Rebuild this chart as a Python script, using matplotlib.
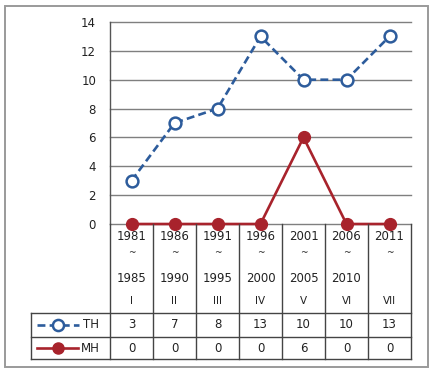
import matplotlib
matplotlib.use("Agg")
import matplotlib.pyplot as plt
from matplotlib.lines import Line2D
from matplotlib.patches import Rectangle

start_years = ["1981", "1986", "1991", "1996", "2001", "2006", "2011"]
end_years = ["1985", "1990", "1995", "2000", "2005", "2010", ""]
roman = ["I", "II", "III", "IV", "V", "VI", "VII"]
th_values = [3, 7, 8, 13, 10, 10, 13]
mh_values = [0, 0, 0, 0, 6, 0, 0]
series_names = ["TH", "MH"]
y_ticks = [0, 2, 4, 6, 8, 10, 12, 14]

W, H = 432, 372
plt.rcParams['font.family'] = ['DejaVu Sans']
fig = plt.figure(figsize=(W / 100, H / 100), dpi=100)

TH_COLOR = "#2d5c9c"
MH_COLOR = "#a8232c"
GRID = "#7f7f7f"
TXT = "#222222"
FS = 8.5

# layout in pixels
px_left, px_right = 110, 411
px_top, px_zero = 22, 224
row_hdr_bot, row_th_bot, row_mh_bot = 313, 337, 359
lab_left = 31

ax = fig.add_axes([px_left / W, 1 - px_zero / H, (px_right - px_left) / W, (px_zero - px_top) / H])
n = len(start_years)
xs = [i + 0.5 for i in range(n)]
ax.set_xlim(0, n)
ax.set_ylim(0, 14)
ax.set_yticks(y_ticks)
ax.set_yticklabels([str(v) for v in y_ticks], fontsize=FS, color=TXT)
ax.tick_params(axis='y', length=0, pad=10)
ax.set_xticks([])
for s in ["top", "right", "bottom"]:
    ax.spines[s].set_visible(False)
ax.spines["left"].set_color("#555555")
ax.spines["left"].set_linewidth(1)
for v in y_ticks:
    ax.axhline(v, color=GRID, lw=1, zorder=1, clip_on=False)

ax.plot(xs, th_values, linestyle=(0, (3, 1.6)), color=TH_COLOR, lw=1.9,
        marker='o', markersize=8.5, markerfacecolor='white', markeredgecolor=TH_COLOR,
        markeredgewidth=1.8, clip_on=False, zorder=3)
ax.plot(xs, mh_values, linestyle='-', color=MH_COLOR, lw=1.9,
        marker='o', markersize=8.5, markerfacecolor=MH_COLOR, markeredgecolor=MH_COLOR,
        clip_on=False, zorder=4)

# overlay in pixel coordinates for the table
ov = fig.add_axes([0, 0, 1, 1], zorder=-1)
ov.set_xlim(0, W)
ov.set_ylim(H, 0)
ov.axis('off')
ov.add_patch(Rectangle((5, 6), 423, 361, fill=False, edgecolor="#9a9a9a", lw=1.4))

ov2 = fig.add_axes([0, 0, 1, 1], zorder=5)
ov2.set_xlim(0, W)
ov2.set_ylim(H, 0)
ov2.axis('off')
ov2.patch.set_alpha(0)

colw = (px_right - px_left) / n
lc = "#444444"
# horizontal lines
for y in [row_hdr_bot, row_th_bot, row_mh_bot]:
    ov2.plot([lab_left, px_right], [y, y], color=lc, lw=1)
# vertical lines
for i in range(n + 1):
    x = px_left + i * colw
    ov2.plot([x, x], [px_zero, row_mh_bot], color=lc, lw=1)
ov2.plot([lab_left, lab_left], [row_hdr_bot, row_mh_bot], color=lc, lw=1)

for i in range(n):
    cx = px_left + (i + 0.5) * colw
    ov2.text(cx, 237, start_years[i], ha='center', va='center', fontsize=FS, color=TXT)
    ov2.text(cx, 253, "~", ha='center', va='center', fontsize=6.5, color=TXT)
    if end_years[i]:
        ov2.text(cx, 278, end_years[i], ha='center', va='center', fontsize=FS, color=TXT)
    ov2.text(cx, 301, roman[i], ha='center', va='center', fontsize=FS - 1, color=TXT)
    ov2.text(cx, (row_hdr_bot + row_th_bot) / 2, str(th_values[i]), ha='center', va='center', fontsize=FS, color=TXT)
    ov2.text(cx, (row_th_bot + row_mh_bot) / 2, str(mh_values[i]), ha='center', va='center', fontsize=FS, color=TXT)

# legend keys
yth = (row_hdr_bot + row_th_bot) / 2
ymh = (row_th_bot + row_mh_bot) / 2
ov2.add_line(Line2D([37, 79], [yth, yth], linestyle=(0, (3, 1.6)), color=TH_COLOR, lw=1.9))
ov2.add_line(Line2D([58], [yth], marker='o', markersize=8, markerfacecolor='white',
                    markeredgecolor=TH_COLOR, markeredgewidth=1.8, linestyle='none'))
ov2.add_line(Line2D([37, 78], [ymh, ymh], linestyle='-', color=MH_COLOR, lw=1.9))
ov2.add_line(Line2D([58], [ymh], marker='o', markersize=8, markerfacecolor=MH_COLOR,
                    markeredgecolor=MH_COLOR, linestyle='none'))
ov2.text(99, yth, series_names[0], ha='right', va='center', fontsize=FS, color=TXT)
ov2.text(100, ymh, series_names[1], ha='right', va='center', fontsize=FS, color=TXT)

fig.savefig("out.png", dpi=100)
